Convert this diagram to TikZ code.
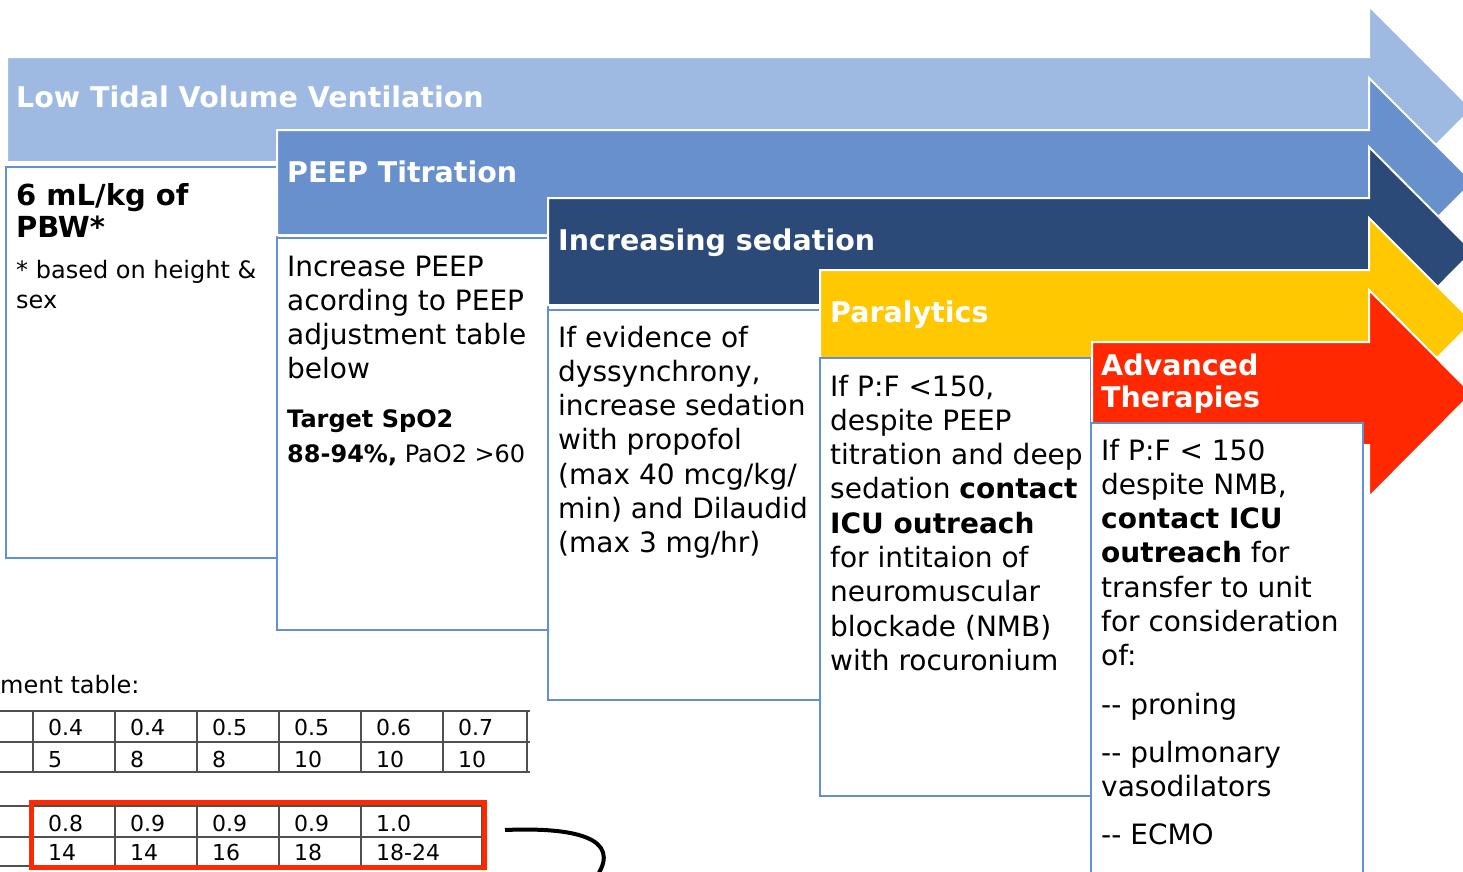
\documentclass[tikz,border=0pt]{standalone}
\usepackage{fontspec}
\setmainfont{DejaVu Sans}
\definecolor{lblue}{RGB}{158,186,227}
\definecolor{mblue}{RGB}{104,144,204}
\definecolor{dblue}{RGB}{44,74,120}
\definecolor{yel}{RGB}{255,200,0}
\definecolor{rd}{RGB}{255,40,0}
\definecolor{boxblue}{RGB}{98,144,210}
\definecolor{gridgray}{RGB}{80,80,80}
\newcommand{\blk}[1]{\begin{tabular}[t]{@{}l@{}}#1\end{tabular}}
\tikzset{
  arr/.style={draw=white, line width=2pt, line join=miter},
  txtbox/.style={draw=boxblue, line width=2.4pt, fill=white},
  hdr/.style={anchor=base west, inner sep=0, text=white, font=\fontsize{28.5}{32}\selectfont\bfseries},
  body/.style={anchor=base west, inner sep=0, font=\fontsize{28}{34.3}\selectfont},
  cell/.style={anchor=base west, inner sep=0, font=\fontsize{22}{26}\selectfont},
  grid/.style={draw=gridgray, line width=1.4pt},
}
\begin{document}
\begin{tikzpicture}[x=1pt,y=-1pt]
\useasboundingbox (0,0) rectangle (1463,871);
\clip (0,0) rectangle (1463,871);
\fill[white] (0,0) rectangle (1463,871);

% Arrow 1
\draw[arr, fill=lblue] (7,57) -- (1369,57) -- (1369,6) -- (1472,109) -- (1369,212) -- (1369,162) -- (7,162) -- cycle;
\node[hdr] (h1) at (16,107) {Low Tidal Volume Ventilation};
\draw[txtbox] (6,167) rectangle (277,558);
\node[anchor=base west, inner sep=0, font=\fontsize{29}{32}\selectfont\bfseries] (t1a) at (16,205) {\blk{6 mL/kg of\\PBW*}};
\node[anchor=base west, inner sep=0, font=\fontsize{24}{30}\selectfont] (t1b) at (16,278) {\blk{* based on height \&\\sex}};

% Arrow 2
\draw[arr, fill=mblue] (277,130) -- (1369,130) -- (1369,78) -- (1473,182) -- (1369,286) -- (1369,235) -- (277,235) -- cycle;
\node[hdr] (h2) at (287,182) {PEEP Titration};
\draw[txtbox] (277,238) rectangle (548,630);
\node[body] (t2a) at (287,276) {\blk{Increase PEEP\\acording to PEEP\\adjustment table\\below}};
\node[anchor=base west, inner sep=0, font=\fontsize{24}{35}\selectfont] (t2b) at (287,427) {\blk{\textbf{Target SpO2}\\\textbf{88-94\%,} PaO2 >60}};

% Arrow 3
\draw[arr, fill=dblue] (548,198) -- (1369,198) -- (1369,147) -- (1473,251.5) -- (1369,356) -- (1369,305) -- (548,305) -- cycle;
\node[hdr] (h3) at (558,250) {Increasing sedation};
\draw[txtbox] (548,310) rectangle (820,700);
\node[body] (t3) at (558,347) {\blk{If evidence of\\dyssynchrony,\\increase sedation\\with propofol\\(max 40 mcg/kg/\\min) and Dilaudid\\(max 3 mg/hr)}};

% Arrow 4
\draw[arr, fill=yel] (820,270) -- (1369,270) -- (1369,218) -- (1473,322) -- (1369,426) -- (1369,374) -- (820,374) -- cycle;
\node[hdr] (h4) at (830,322) {Paralytics};
\draw[txtbox] (820,358) rectangle (1091,796);
\node[body] (t4) at (830,396) {\blk{If P:F <150,\\despite PEEP\\titration and deep\\sedation \textbf{contact}\\\textbf{ICU outreach}\\for intitaion of\\neuromuscular\\blockade (NMB)\\with rocuronium}};

% Arrow 5
\draw[arr, fill=rd] (1092,342) -- (1369,342) -- (1369,290) -- (1472,393.5) -- (1369,497) -- (1369,445) -- (1092,445) -- cycle;
\node[hdr] (h5) at (1101,375) {\blk{Advanced\\Therapies}};
\draw[txtbox] (1091,423) rectangle (1363,880);
\node[body] (t5) at (1101,460) {\blk{If P:F < 150\\despite NMB,\\\textbf{contact ICU}\\\textbf{outreach} for\\transfer to unit\\for consideration\\of:\\[14pt]-{}- proning\\[14pt]-{}- pulmonary\\vasodilators\\[13pt]-{}- ECMO}};

% Table caption
\node[anchor=base west, inner sep=0, font=\fontsize{24}{28}\selectfont] (cap) at (0,693) {ment table:};

% Table 1
\foreach \yy in {711,742,772} \draw[grid] (0,\yy) -- (530,\yy);
\foreach \xx in {33,115,197,279,361,443,527} \draw[grid] (\xx,711) -- (\xx,772);
\node[cell] (a1) at (48,735) {0.4};
\node[cell] (a2) at (130,735) {0.4};
\node[cell] (a3) at (212,735) {0.5};
\node[cell] (a4) at (294,735) {0.5};
\node[cell] (a5) at (376,735) {0.6};
\node[cell] (a6) at (458,735) {0.7};
\node[cell] (b1) at (48,767) {5};
\node[cell] (b2) at (130,767) {8};
\node[cell] (b3) at (212,767) {8};
\node[cell] (b4) at (294,767) {10};
\node[cell] (b5) at (376,767) {10};
\node[cell] (b6) at (458,767) {10};

% Table 2
\foreach \yy in {806,837,866} \draw[grid] (0,\yy) -- (482,\yy);
\foreach \xx in {33,115,197,279,361,482} \draw[grid] (\xx,806) -- (\xx,866);
\node[cell] (c1) at (48,831) {0.8};
\node[cell] (c2) at (130,831) {0.9};
\node[cell] (c3) at (212,831) {0.9};
\node[cell] (c4) at (294,831) {0.9};
\node[cell] (c5) at (376,831) {1.0};
\node[cell] (d1) at (48,860) {14};
\node[cell] (d2) at (130,860) {14};
\node[cell] (d3) at (212,860) {16};
\node[cell] (d4) at (294,860) {18};
\node[cell] (d5) at (376,860) {18-24};
\draw[rd, line width=5pt] (31.5,802.5) rectangle (484.5,867.5);

% Curve
\coordinate (cs) at (505,830);
\coordinate (ce) at (597,876);
\draw[line width=4pt] (cs) .. controls (575,827) and (622,838) .. (ce);
\end{tikzpicture}
\end{document}
